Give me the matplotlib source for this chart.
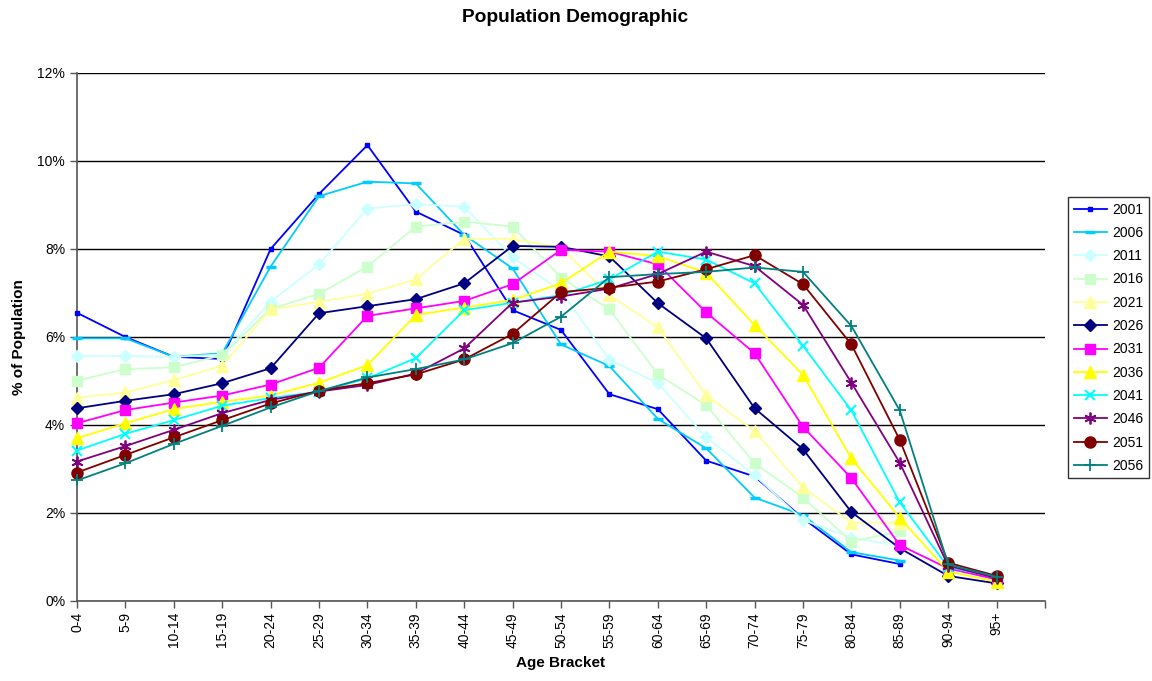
import numpy as np
import matplotlib
matplotlib.use("Agg")
import matplotlib.pyplot as plt
from matplotlib.ticker import FuncFormatter, FixedLocator

plt.rcParams['font.family'] = ['Liberation Sans', 'DejaVu Sans']

age_brackets = ["0-4", "5-9", "10-14", "15-19", "20-24", "25-29", "30-34", "35-39",
                "40-44", "45-49", "50-54", "55-59", "60-64", "65-69", "70-74", "75-79",
                "80-84", "85-89", "90-94", "95+"]

nan = np.nan
y2001 = [6.55, 6.00, 5.55, 5.50, 8.00, 9.25, 10.36, 8.85, 8.32, 6.61, 6.16, 4.70, 4.36, 3.19, 2.83, 1.88, 1.06, 0.84, nan, nan]
y2006 = [5.97, 5.97, 5.55, 5.63, 7.60, 9.20, 9.53, 9.49, 8.32, 7.56, 5.83, 5.34, 4.14, 3.47, 2.35, 1.95, 1.11, 0.92, nan, nan]
y2011 = [5.57, 5.57, 5.55, 5.60, 6.80, 7.65, 8.92, 9.02, 8.96, 7.81, 7.05, 5.48, 4.95, 3.72, 2.86, 1.84, 1.44, 1.25, nan, nan]
y2016 = [5.01, 5.27, 5.31, 5.59, 6.64, 6.98, 7.60, 8.51, 8.62, 8.51, 7.35, 6.63, 5.15, 4.45, 3.13, 2.35, 1.35, 1.58, nan, nan]
y2021 = [4.62, 4.74, 5.02, 5.35, 6.63, 6.80, 6.98, 7.31, 8.23, 8.23, 8.03, 6.95, 6.22, 4.68, 3.86, 2.58, 1.78, 1.78, nan, nan]
y2026 = [4.38, 4.55, 4.70, 4.95, 5.29, 6.54, 6.70, 6.86, 7.22, 8.07, 8.05, 7.83, 6.77, 5.97, 4.38, 3.45, 2.02, 1.20, 0.57, 0.40]
y2031 = [4.04, 4.34, 4.51, 4.67, 4.92, 5.30, 6.48, 6.65, 6.82, 7.20, 7.98, 7.94, 7.65, 6.56, 5.63, 3.96, 2.79, 1.27, 0.74, 0.49]
y2036 = [3.70, 4.04, 4.36, 4.53, 4.67, 4.96, 5.36, 6.50, 6.67, 6.84, 7.22, 7.94, 7.84, 7.46, 6.27, 5.14, 3.24, 1.89, 0.67, 0.44]
y2041 = [3.42, 3.80, 4.11, 4.44, 4.61, 4.76, 5.06, 5.52, 6.61, 6.78, 6.95, 7.31, 7.94, 7.76, 7.22, 5.80, 4.33, 2.24, 0.77, 0.54]
y2046 = [3.17, 3.52, 3.89, 4.27, 4.57, 4.76, 4.91, 5.17, 5.74, 6.78, 6.92, 7.10, 7.43, 7.94, 7.61, 6.73, 4.96, 3.14, 0.80, 0.52]
y2051 = [2.92, 3.32, 3.72, 4.11, 4.49, 4.78, 4.95, 5.15, 5.49, 6.07, 7.02, 7.12, 7.26, 7.54, 7.86, 7.20, 5.83, 3.66, 0.87, 0.57]
y2056 = [2.74, 3.13, 3.57, 3.98, 4.40, 4.77, 5.08, 5.27, 5.49, 5.86, 6.46, 7.36, 7.43, 7.48, 7.58, 7.48, 6.25, 4.33, 0.83, 0.55]

years = ["2001", "2006", "2011", "2016", "2021", "2026", "2031", "2036", "2041", "2046", "2051", "2056"]
series = [y2001, y2006, y2011, y2016, y2021, y2026, y2031, y2036, y2041, y2046, y2051, y2056]

colors = ["#0000FF", "#00CCFF", "#CCFFFF", "#CCFFCC", "#FFFF99", "#000080",
          "#FF00FF", "#FFFF00", "#00FFFF", "#800080", "#800000", "#008080"]
markers = ["s", "_", "D", "s", "^", "D", "s", "^", "x", (6, 2, 0), "o", "+"]
msizes = [3, 7, 6.5, 7.5, 8, 6.5, 7.5, 8, 7.5, 8.5, 8, 8.5]
mews = [1, 2.5, 1, 1, 1, 1, 1, 1, 1.5, 1.3, 1, 1.3]

fig = plt.figure(figsize=(11.52, 6.81), dpi=100)
ax = fig.add_axes([77/1152, 1 - 601/681, (1045-77)/1152, (601-73)/681])

x = np.arange(len(age_brackets))
for yr, vals, c, m, ms, mew in zip(years, series, colors, markers, msizes, mews):
    ax.plot(x, np.array(vals) / 100.0, color=c, lw=1.3, marker=m, ms=ms,
            mfc=c, mec=c, mew=mew, label=yr, clip_on=False, zorder=3)

ax.set_xlim(0, 20)
ax.set_ylim(0, 0.12)
ax.set_yticks(np.arange(0, 0.121, 0.02))
ax.yaxis.set_major_formatter(FuncFormatter(lambda v, p: f"{v*100:.0f}%"))
ax.xaxis.set_major_locator(FixedLocator(np.arange(0, 21)))
ax.set_xticklabels(age_brackets + [""], rotation=90, fontsize=10)
ax.tick_params(axis='y', labelsize=10, direction='out', length=5, width=1, color='#555555')
ax.tick_params(axis='x', direction='out', length=5, width=1, color='#555555', pad=3)
ax.grid(axis='y', color='black', lw=1)
ax.set_axisbelow(True)
for s in ['top', 'right']:
    ax.spines[s].set_visible(False)
for s in ['left', 'bottom']:
    ax.spines[s].set_color('#555555')
    ax.spines[s].set_linewidth(1.2)
    ax.spines[s].set_zorder(2)

ax.set_xlabel("Age Bracket", fontsize=11, fontweight='bold', labelpad=6)
ax.set_ylabel("% of Population", fontsize=11, fontweight='bold', labelpad=8)
fig.text(575/1152, 1 - 18/681, "Population Demographic", fontsize=13.8,
         fontweight='bold', ha='center', va='center')

leg = ax.legend(loc='upper left', bbox_to_anchor=(1068/1152, 1 - 197/681),
                bbox_transform=fig.transFigure, frameon=True, fontsize=10,
                handlelength=2.4, labelspacing=0.67, borderpad=0.4,
                handletextpad=0.4, fancybox=False, borderaxespad=0)
leg.get_frame().set_edgecolor('black')
leg.get_frame().set_linewidth(1)

fig.savefig("out.png", dpi=100)
